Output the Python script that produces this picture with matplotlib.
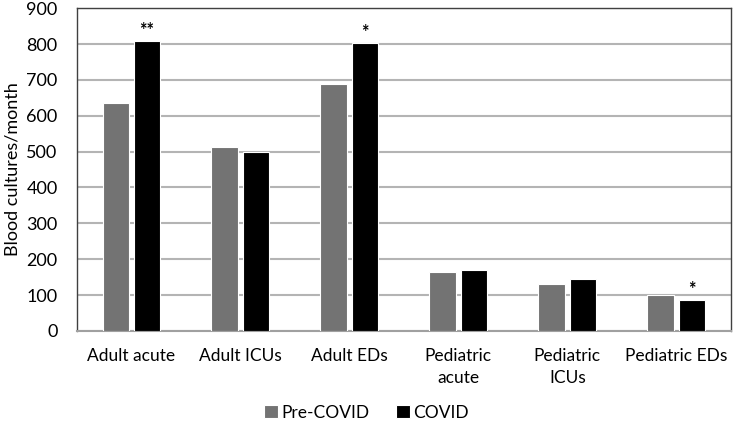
import numpy as np
import matplotlib.pyplot as plt

categories = ['Adult acute', 'Adult ICUs', 'Adult EDs', 'Pediatric\nacute', 'Pediatric\nICUs', 'Pediatric EDs']
pre_covid = [635, 513, 689, 165, 132, 101]
covid = [808, 498, 802, 169, 145, 86]
stars = ['**', '', '*', '', '', '*']

plt.rcParams['font.family'] = ['Lato', 'DejaVu Sans']

fig = plt.figure(figsize=(7.33, 4.32), dpi=100)
ax = fig.add_axes([0.105, 0.234, 0.892, 0.747])

x = np.arange(len(categories))
w = 0.245
ax.bar(x - 0.143, pre_covid, w, color='#737373', edgecolor='white', linewidth=0.8, label='Pre-COVID', zorder=3)
ax.bar(x + 0.143, covid, w, color='#000000', edgecolor='white', linewidth=0.8, label='COVID', zorder=3)

for xi, v, s in zip(x, covid, stars):
    if s:
        ax.text(xi + 0.143, v + 6, s, ha='center', va='bottom', fontsize=13, fontweight='bold')

ax.set_xlim(-0.5, len(categories) - 0.5)
ax.set_ylim(0, 900)
ax.set_yticks(range(0, 901, 100))
ax.yaxis.grid(True, color='#b4b4b4', linewidth=1.5, zorder=0)
ax.set_xticks(x)
ax.set_xticklabels(categories, fontsize=12.5, linespacing=1.5)
ax.tick_params(axis='y', labelsize=13, length=0, pad=14)
ax.tick_params(axis='x', length=0, pad=12)
ax.set_ylabel('Blood cultures/month', fontsize=13)
for sp in ax.spines.values():
    sp.set_color('#404040')
    sp.set_linewidth(1.0)
ax.spines['bottom'].set_color('#a0a0a0')
ax.spines['bottom'].set_linewidth(1.5)

fig.legend(loc='lower center', bbox_to_anchor=(0.5, -0.01), ncol=2, frameon=False,
           fontsize=12.5, handlelength=0.8, handleheight=0.8, handletextpad=0.2, columnspacing=1.5)

fig.savefig('out.png', dpi=100)
